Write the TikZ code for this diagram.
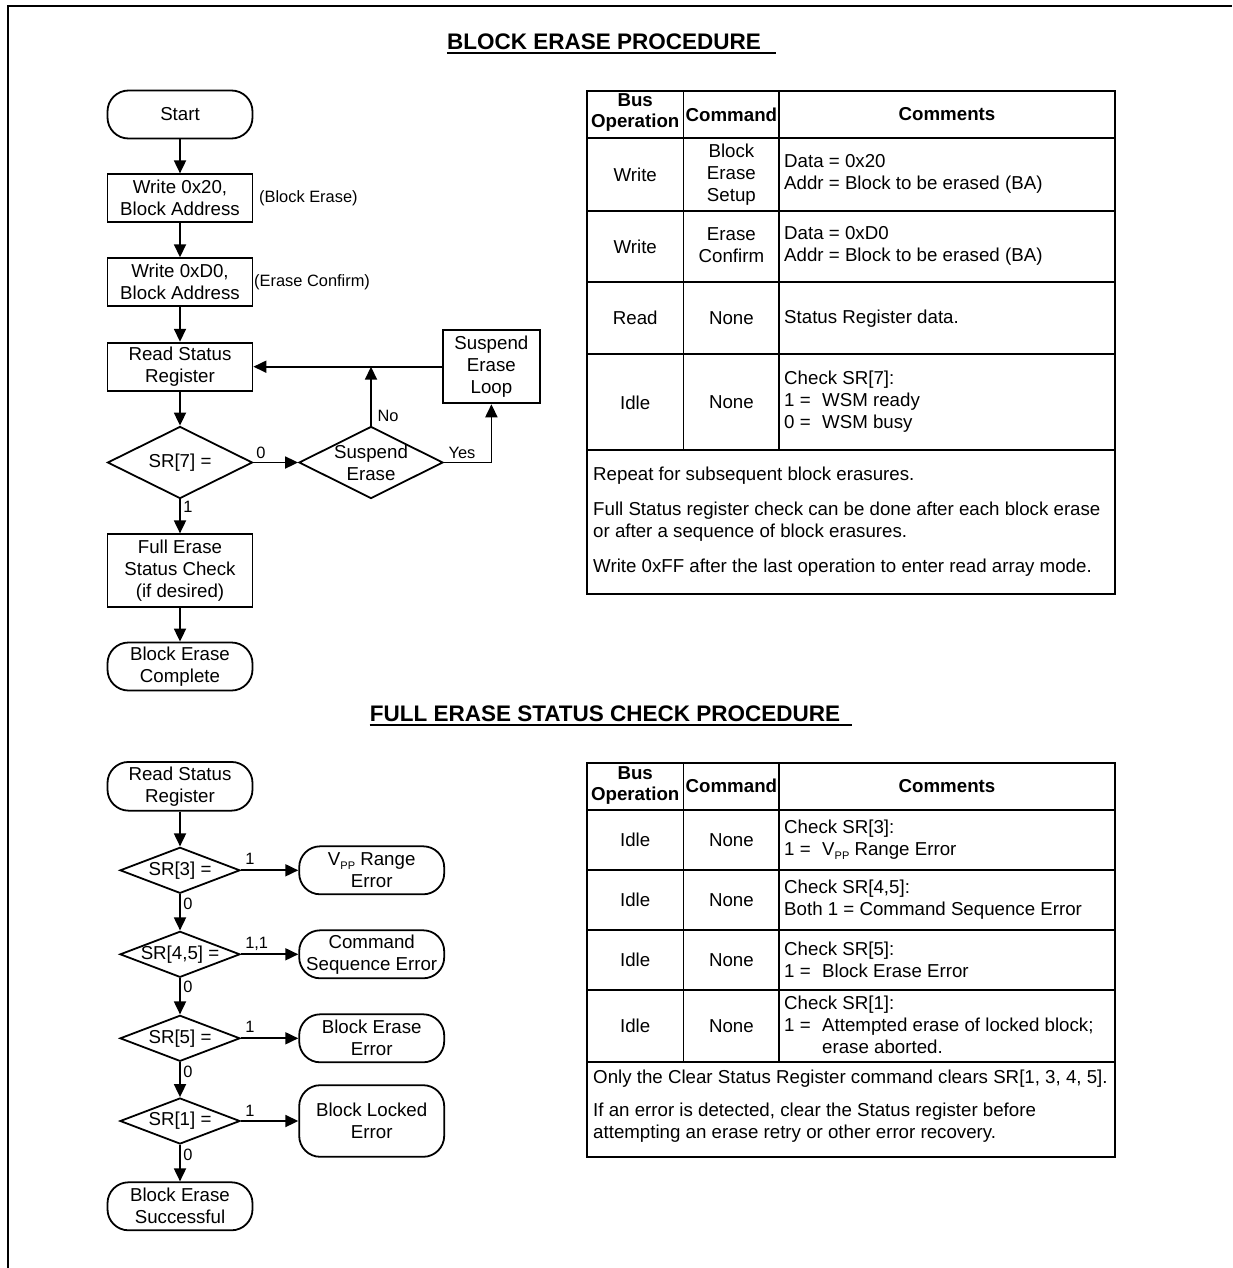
\documentclass[tikz,border=0pt]{standalone}
\usepackage{fontspec}
\setmainfont{Liberation Sans}
\usetikzlibrary{shapes.geometric,arrows.meta}
\newcommand\mainsz{\fontsize{18.7}{22}\selectfont}
\newcommand\lblsz{\fontsize{16.4}{19}\selectfont}
\newcommand\ttlsz{\fontsize{22.5}{26}\selectfont\bfseries}
\newcommand\hdsz{\fontsize{18.7}{21}\selectfont\bfseries}
\newcommand\subpp{\raisebox{-4pt}{\fontsize{11}{11}\selectfont PP}}
\newcommand\eqind[1]{\makebox[38pt][l]{#1}}
\tikzset{
  ln/.style={line width=1.8pt},
  proc/.style={draw, ln, rectangle, minimum width=145pt, minimum height=48pt, inner sep=0pt, align=center, font=\mainsz},
  term/.style={proc, rounded corners=21pt},
  dec/.style={draw, ln, diamond, inner xsep=-60pt, inner ysep=-30pt, minimum width=145pt, minimum height=72pt, align=center, font=\mainsz},
  decs/.style={dec, minimum width=120pt, minimum height=46pt},
  arr/.style={ln, -{Triangle[length=13pt,width=12pt]}},
  lab/.style={inner sep=0pt, font=\lblsz},
  cell/.style={inner sep=0pt, align=center, font=\mainsz},
  cmt/.style={inner sep=0pt, align=left, anchor=west, font=\mainsz},
  hd/.style={inner sep=0pt, align=center, font=\hdsz},
  grid/.style={line width=1.7pt},
  ttl/.style={inner sep=0pt, anchor=base, font=\ttlsz},
  ul/.style={line width=2pt},
}
\begin{document}
\begin{tikzpicture}[x=1pt,y=-1pt]
\useasboundingbox (0,0) rectangle (1232,1268);
% frame
\draw[line width=2.4pt] (8,1268) -- (8,6) -- (1232,6);

% titles
\node[ttl] (t1) at (604,49.5) {BLOCK ERASE PROCEDURE};
\draw[ul] ([yshift=-3.5pt]t1.base west) -- ([xshift=15pt,yshift=-3.5pt]t1.base east);
\node[ttl] (t2) at (605,721) {FULL ERASE STATUS CHECK PROCEDURE};
\draw[ul] ([yshift=-3.5pt]t2.base west) -- ([xshift=12pt,yshift=-3.5pt]t2.base east);

% ===== block erase flowchart =====
\node[term] (start) at (180,114.5) {Start};
\node[proc] (w20) at (180,198.3) {Write 0x20,\\Block Address};
\node[proc] (wd0) at (180,282.2) {Write 0xD0,\\Block Address};
\node[proc] (rsr) at (180,366.7) {Read Status\\Register};
\node[dec] (sr7) at (180,462.5) {SR[7] =};
\node[dec, minimum width=144pt] (se) at (371,462.5) {Suspend\\Erase};
\node[proc, minimum width=96.7pt, minimum height=73.3pt] (sel) at (491.4,366.7) {Suspend\\Erase\\Loop};
\node[proc, minimum height=72.4pt] (fesc) at (180,570.5) {Full Erase\\Status Check\\(if desired)};
\node[term] (bec) at (180,666.5) {Block Erase\\Complete};

\node[lab, anchor=west] (lbe) at (259,198) {(Block Erase)};
\node[lab, anchor=west] (lec) at (254,282.7) {(Erase Confirm)};
\node[lab] (lz) at (261,452.5) {0};
\node[lab] (lno) at (388,415.7) {No};
\node[lab] (lyes) at (462,452.5) {Yes};
\node[lab] (lone) at (188,507) {1};

\coordinate (jn) at (se.north |- rsr.east);
\draw[arr] (start) -- (w20);
\draw[arr] (w20) -- (wd0);
\draw[arr] (wd0) -- (rsr);
\draw[arr] (rsr) -- (sr7);
\draw[arr] (sr7) -- (fesc);
\draw[arr] (fesc) -- (bec);
\draw[arr] (sr7) -- (se);
\draw[arr] (se.north) -- (jn);
\draw[arr] (se.east) -| (sel.south);
\draw[arr] (sel.west) -- (rsr.east);

% ===== table 1 =====
\draw[grid] (587,91) rectangle (1115.2,594.3);
\foreach \yy in {138.3,210.7,282.3,354.3,450} \draw[grid] (587,\yy) -- (1115.2,\yy);
\foreach \xx in {683.4,779.3} \draw[grid] (\xx,91) -- (\xx,450);
\node[hd] (h1a) at (635.2,113) {Bus\\Operation};
\node[hd] (h1b) at (731.4,114.5) {Command};
\node[hd] (h1c) at (947,114.5) {Comments};
\node[cell] (r1a) at (635.2,174.5) {Write};
\node[cell] (r1b) at (731.4,174.3) {Block\\Erase\\Setup};
\node[cmt] (r1c) at (784,174) {Data = 0x20\\Addr = Block to be erased (BA)};
\node[cell] (r2a) at (635.2,246.5) {Write};
\node[cell] (r2b) at (731.4,245.5) {Erase\\Confirm};
\node[cmt] (r2c) at (784,245.5) {Data = 0xD0\\Addr = Block to be erased (BA)};
\node[cell] (r3a) at (635.2,318.3) {Read};
\node[cell] (r3b) at (731.4,318.3) {None};
\node[cmt] (r3c) at (784,318.3) {Status Register data.};
\node[cell] (r4a) at (635.2,402.5) {Idle};
\node[cell] (r4b) at (731.4,402.5) {None};
\node[cmt] (r4c) at (784,401.5) {Check SR[7]:\\\eqind{1 =}WSM ready\\\eqind{0 =}WSM busy};
\node[cmt] (n1) at (593,475.7) {Repeat for subsequent block erasures.};
\node[cmt] (n2) at (593,522) {Full Status register check can be done after each block erase\\or after a sequence of block erasures.};
\node[cmt] (n3) at (593,567.7) {Write 0xFF after the last operation to enter read array mode.};

% ===== full erase status check flowchart =====
\node[term, minimum height=48.7pt] (rsr2) at (180,786.3) {Read Status\\Register};
\node[decs] (d3) at (180,870.3) {SR[3] =};
\node[decs] (d45) at (180,954.3) {SR[4,5] =};
\node[decs] (d5) at (180,1038.3) {SR[5] =};
\node[decs] (d1) at (180,1121) {SR[1] =};
\node[term] (bes) at (180,1206.3) {Block Erase\\Successful};
\node[term] (e1) at (371.7,870.3) {V\subpp{} Range\\Error};
\node[term] (e2) at (371.7,954.3) {Command\\Sequence Error};
\node[term] (e3) at (371.7,1038.3) {Block Erase\\Error};
\node[term, minimum height=71.6pt] (e4) at (371.7,1121) {Block Locked\\Error};

\node[lab] (la1) at (250,859) {1};
\node[lab] (la2) at (256.7,944) {1,1};
\node[lab] (la3) at (250,1026.5) {1};
\node[lab] (la4) at (250,1111) {1};
\node[lab] (lb1) at (188,904) {0};
\node[lab] (lb2) at (188,987) {0};
\node[lab] (lb3) at (188,1071.7) {0};
\node[lab] (lb4) at (188,1155) {0};

\draw[arr] (rsr2) -- (d3);
\draw[arr] (d3) -- (d45);
\draw[arr] (d45) -- (d5);
\draw[arr] (d5) -- (d1);
\draw[arr] (d1) -- (bes);
\draw[arr] (d3) -- (e1);
\draw[arr] (d45) -- (e2);
\draw[arr] (d5) -- (e3);
\draw[arr] (d1) -- (e4);

% ===== table 2 =====
\draw[grid] (587,762.7) rectangle (1115.2,1157.3);
\foreach \yy in {810,870,930,990,1061.7} \draw[grid] (587,\yy) -- (1115.2,\yy);
\foreach \xx in {683.4,779.3} \draw[grid] (\xx,762.7) -- (\xx,1061.7);
\node[hd] (h2a) at (635.2,785.5) {Bus\\Operation};
\node[hd] (h2b) at (731.4,786.3) {Command};
\node[hd] (h2c) at (947,786.3) {Comments};
\node[cell] (s1a) at (635.2,840) {Idle};
\node[cell] (s1b) at (731.4,840) {None};
\node[cmt] (s1c) at (784,839.5) {Check SR[3]:\\\eqind{1 =}V\subpp{} Range Error};
\node[cell] (s2a) at (635.2,900) {Idle};
\node[cell] (s2b) at (731.4,900) {None};
\node[cmt] (s2c) at (784,900) {Check SR[4,5]:\\Both 1 = Command Sequence Error};
\node[cell] (s3a) at (635.2,960) {Idle};
\node[cell] (s3b) at (731.4,960) {None};
\node[cmt] (s3c) at (784,960) {Check SR[5]:\\\eqind{1 =}Block Erase Error};
\node[cell] (s4a) at (635.2,1025.8) {Idle};
\node[cell] (s4b) at (731.4,1025.8) {None};
\node[cmt] (s4c) at (784,1025) {Check SR[1]:\\\eqind{1 =}Attempted erase of locked block;\\\eqind{}erase aborted.};
\node[cmt] (m1) at (593,1078.3) {Only the Clear Status Register command clears SR[1, 3, 4, 5].};
\node[cmt] (m2) at (593,1123) {If an error is detected, clear the Status register before\\attempting an erase retry or other error recovery.};
\end{tikzpicture}
\end{document}
